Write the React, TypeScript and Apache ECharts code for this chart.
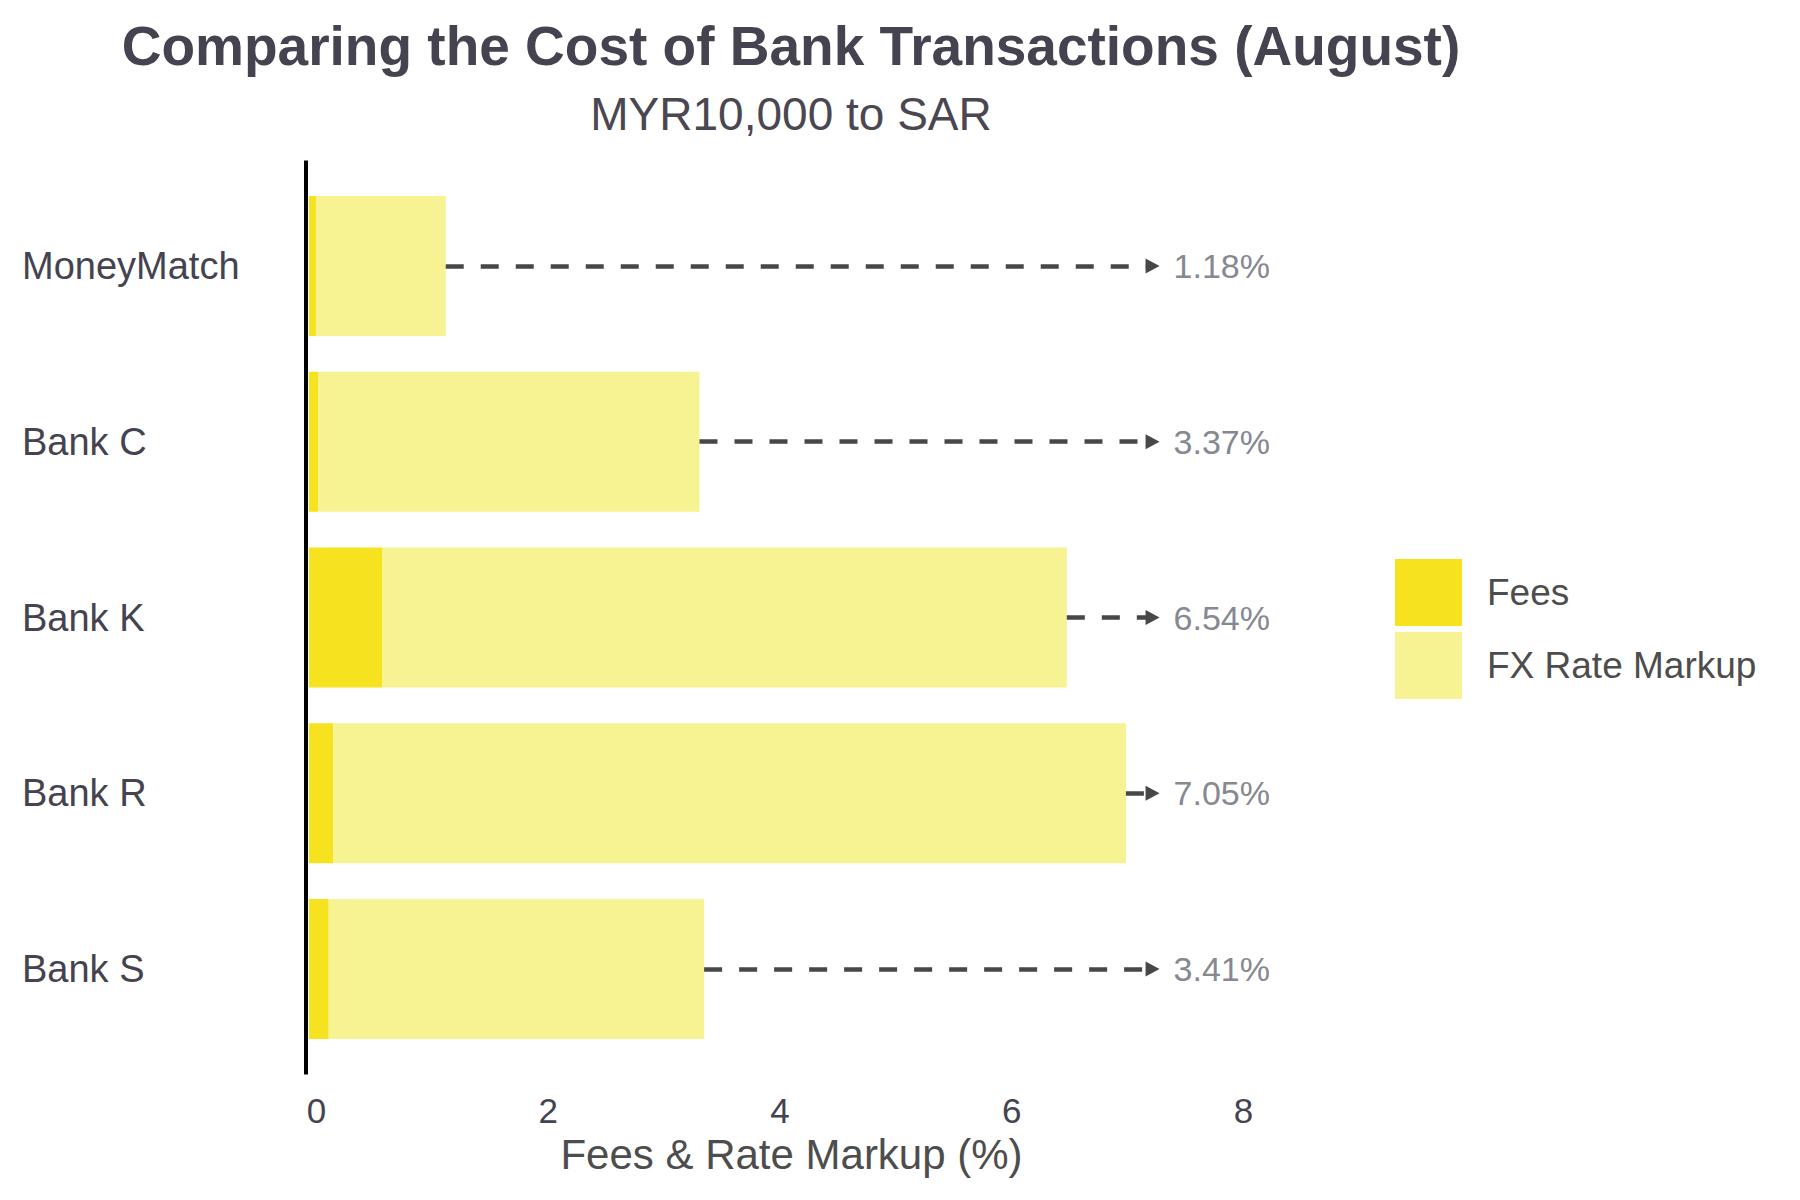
import React, { useEffect, useRef } from "react";
import * as echarts from "echarts";

const categories = ["MoneyMatch", "Bank C", "Bank K", "Bank R", "Bank S"];
const fees = [0.06, 0.08, 0.63, 0.21, 0.17];
const fxMarkup = [1.12, 3.29, 5.91, 6.84, 3.24];
const totals = [1.18, 3.37, 6.54, 7.05, 3.41];
const totalLabels = ["1.18%", "3.37%", "6.54%", "7.05%", "3.41%"];
const xTickMax = 8;
const xTickInterval = 2;
const arrowEnd = 7.28;

const FONT = "'Liberation Sans', Arial, Helvetica, sans-serif";
const DARK = "#45434f";

export default function App() {
  const ref = useRef<HTMLDivElement>(null);

  useEffect(() => {
    document.body.style.margin = "0";
    if (!ref.current) return;
    const chart = echarts.init(ref.current, undefined, { renderer: "svg" });
    const gridTop = 178;
    const gridHeight = 879;
    const option: any = {
      animation: false,
      backgroundColor: "#ffffff",
      textStyle: { fontFamily: FONT },
      grid: { left: 309, top: gridTop, width: 927, height: gridHeight, containLabel: false },
      legend: {
        orient: "vertical",
        left: 1395,
        top: 559,
        padding: 0,
        itemWidth: 67,
        itemHeight: 67,
        itemGap: 6,
        icon: "rect",
        selectedMode: false,
        data: ["Fees", "FX Rate Markup"],
        textStyle: { fontSize: 37, color: "#4d4d4d", fontFamily: FONT, padding: [0, 0, 0, 20] },
      },
      xAxis: {
        type: "value",
        min: 0,
        max: xTickMax,
        interval: xTickInterval,
        axisLine: { show: false },
        axisTick: { show: false },
        splitLine: { show: false },
        axisLabel: {
          fontSize: 35,
          color: DARK,
          margin: 36,
          fontFamily: FONT,
          padding: [0, 0, 0, 15],
        },
        name: "Fees & Rate Markup (%)",
        nameLocation: "middle",
        nameGap: 76,
        nameTextStyle: { fontSize: 42, color: "#4d4d4d", fontFamily: FONT, padding: [0, 0, 0, 38] },
      },
      yAxis: {
        type: "category",
        data: categories,
        inverse: true,
        axisLine: { show: false },
        axisTick: { show: false },
        splitLine: { show: false },
        axisLabel: {
          fontSize: 38,
          color: DARK,
          align: "left",
          margin: 287,
          fontFamily: FONT,
        },
      },
      series: [
        {
          name: "Fees",
          type: "bar",
          stack: "total",
          barWidth: 140,
          data: fees,
          itemStyle: { color: "#f6e21f" },
          emphasis: { disabled: true },
        },
        {
          name: "FX Rate Markup",
          type: "bar",
          stack: "total",
          barWidth: 140,
          data: fxMarkup,
          itemStyle: { color: "#f7f292" },
          emphasis: { disabled: true },
          markLine: {
            silent: true,
            animation: false,
            symbol: ["none", "triangle"],
            symbolSize: [15, 14],
            lineStyle: { color: "#474747", width: 4.5, type: [18, 17], opacity: 1 },
            label: {
              show: true,
              position: "end",
              distance: 21,
              fontSize: 34,
              color: "#868892",
              fontFamily: FONT,
              formatter: (p: any) => totalLabels[p.dataIndex],
            },
            emphasis: { disabled: true },
            data: categories.map((c, i) => [
              { coord: [totals[i], c] },
              { coord: [arrowEnd, c] },
            ]),
          },
        },
      ],
      graphic: [
        {
          type: "text",
          x: 791,
          y: 46,
          style: {
            text: "Comparing the Cost of Bank Transactions (August)",
            fontSize: 55,
            fontWeight: "bold",
            fill: DARK,
            fontFamily: FONT,
            textAlign: "center",
            textVerticalAlign: "middle",
          },
        },
        {
          type: "text",
          x: 791,
          y: 114,
          style: {
            text: "MYR10,000 to SAR",
            fontSize: 46,
            fill: "#4a4752",
            fontFamily: FONT,
            textAlign: "center",
            textVerticalAlign: "middle",
          },
        },
      ],
    };
    chart.setOption(option);

    const x0 = chart.convertToPixel({ xAxisIndex: 0 }, 0) as number;
    const band = gridHeight / categories.length;
    chart.setOption({
      graphic: [
        option.graphic[0],
        option.graphic[1],
        {
          type: "line",
          shape: {
            x1: x0 - 3,
            y1: gridTop - band * 0.1,
            x2: x0 - 3,
            y2: gridTop + gridHeight + band * 0.1,
          },
          style: { stroke: "#000000", lineWidth: 4 },
          z: 10,
        },
      ],
    });

    return () => chart.dispose();
  }, []);

  return <div ref={ref} style={{ width: 1800, height: 1200 }} />;
}
